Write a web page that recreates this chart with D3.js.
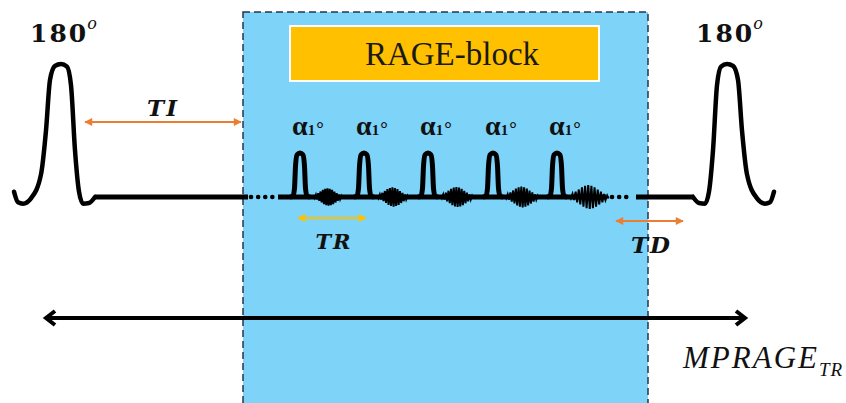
<!DOCTYPE html>
<html>
<head>
<meta charset="utf-8">
<script src="https://cdn.jsdelivr.net/npm/d3@7"></script>
<style>
  html, body { margin: 0; padding: 0; background: #fff; overflow: hidden; }
</style>
</head>
<body>
<div id="chart"></div>
<script>
// ---- sequence data (time axis in px units) ----
const bigPulses = [61, 727];                 // 180 deg inversion pulses
const bigPulseLabel = ['180', 'o'];
const alphaPulses = [300, 364, 428, 493, 557];
const alphaLabel = ['\u03b1', '1', '\u00b0'];
const wiggleCenters = [328, 393, 457, 522, 589];
const wiggleScale = [1.1, 1.2, 1.25, 1.3, 1.5];
const wiggleEnvelope = [1, 2, 3.5, 5, 6.5, 7.5, 8, 7.5, 6.5, 5, 3.5, 2, 1];
const ragePeriod = [243, 648];               // RAGE-block window
const rageLabel = 'RAGE-block';
const solidSegs = [[95, 248], [278, 606], [636, 694]];
const dotSegs = [[251, 275], [612, 633]];
const spanArrows = [
  { label: 'TI', x0: 85, x1: 241, kind: 'orange' },
  { label: 'TR', x0: 298, x1: 366, kind: 'yellow' },
  { label: 'TD', x0: 616, x1: 683, kind: 'orange' }
];
const mprageSpan = [45, 746];
const mprageLabel = ['MPRAGE', 'TR'];

// pulse shapes: [dx, relative amplitude]
const bigShape = [[-47, 0.04], [-43, -0.04], [-38, -0.05], [-30, -0.01], [-20, 0.17], [-15, 0.5],
  [-11, 0.88], [-6, 0.985], [0, 1], [6, 0.98], [10, 0.84], [14, 0.35], [18, 0.04], [22, -0.05],
  [28, -0.045], [34, 0]];
const smallShape = [[-10, 0], [-7, 0.02], [-5.5, 0.2], [-4.5, 0.7], [-3, 0.96], [0, 1],
  [3, 0.96], [4.5, 0.7], [5.5, 0.2], [7, 0.02], [10, 0]];

// ---- layout ----
const width = 846, height = 403;
const baseY = 197;
const COLORS = { blue: '#7dd3f8', border: '#26364f', orange: '#ed7d31', yellow: '#ffc000', black: '#000' };

const x = d3.scaleLinear().domain([0, width]).range([0, width]);
const yBig = d3.scaleLinear().domain([0, 1]).range([baseY, 64]);
const ySmall = d3.scaleLinear().domain([0, 1]).range([baseY, 153]);

const svg = d3.select('#chart')
  .append('svg')
  .attr('width', width)
  .attr('height', height)
  .style('font-family', 'DejaVu Serif, serif');

// blue RAGE window
svg.append('rect')
  .attr('x', x(ragePeriod[0]))
  .attr('y', 12)
  .attr('width', x(ragePeriod[1]) - x(ragePeriod[0]))
  .attr('height', height + 20)
  .attr('fill', COLORS.blue)
  .attr('stroke', COLORS.border)
  .attr('stroke-width', 1.5)
  .attr('stroke-dasharray', '7,4');

// RAGE-block label box
svg.append('rect')
  .attr('x', 290).attr('y', 26)
  .attr('width', 309).attr('height', 55)
  .attr('fill', COLORS.yellow)
  .attr('stroke', '#fff')
  .attr('stroke-width', 2);

svg.append('text')
  .attr('x', 452).attr('y', 65)
  .attr('text-anchor', 'middle')
  .style('font-family', 'Liberation Serif, serif')
  .style('font-size', '33px')
  .attr('fill', '#1a1a1a')
  .text(rageLabel);

// ---- pulses ----
const line = d3.line().curve(d3.curveMonotoneX);

bigPulses.forEach((c, i) => {
  let shape = i === 0 ? bigShape : bigShape.map(([dx, a]) => [-dx, a]).reverse();
  svg.append('path')
    .attr('d', line(shape.map(([dx, a]) => [x(c + dx), yBig(a)])))
    .attr('fill', 'none')
    .attr('stroke', COLORS.black)
    .attr('stroke-width', 4.5)
    .attr('stroke-linecap', 'round')
    .attr('stroke-linejoin', 'round');

  let t = svg.append('text')
    .attr('x', x(c) - 31)
    .attr('y', 42)
    .style('font-weight', 'bold')
    .attr('fill', '#111');
  t.append('tspan')
    .style('font-size', '25px')
    .style('letter-spacing', '2px')
    .text(bigPulseLabel[0]);
  t.append('tspan')
    .attr('dy', -13)
    .attr('dx', -1)
    .style('font-size', '16px')
    .style('font-weight', 'normal')
    .style('font-style', 'italic')
    .text(bigPulseLabel[1]);
});

// baseline segments
solidSegs.forEach(([a, b]) => {
  svg.append('line')
    .attr('x1', x(a)).attr('x2', x(b))
    .attr('y1', baseY).attr('y2', baseY)
    .attr('stroke', COLORS.black)
    .attr('stroke-width', 5);
});

dotSegs.forEach(([a, b]) => {
  svg.append('line')
    .attr('x1', x(a)).attr('x2', x(b))
    .attr('y1', baseY).attr('y2', baseY)
    .attr('stroke', COLORS.black)
    .attr('stroke-width', 4.5)
    .attr('stroke-linecap', 'round')
    .attr('stroke-dasharray', '0.1,7');
});

// readout wiggles
wiggleCenters.forEach((c, i) => {
  let s = wiggleScale[i];
  let n = wiggleEnvelope.length;
  let pts = [];
  wiggleEnvelope.forEach((a, j) => {
    let dx = (j - (n - 1) / 2) * 2.1 * s;
    pts.push([x(c + dx - 0.5 * s), baseY - a * s]);
    pts.push([x(c + dx + 0.5 * s), baseY + a * s]);
  });
  svg.append('path')
    .attr('d', d3.line()(pts))
    .attr('fill', 'none')
    .attr('stroke', COLORS.black)
    .attr('stroke-width', 2);
});

// alpha pulses
alphaPulses.forEach((c) => {
  svg.append('path')
    .attr('d', line(smallShape.map(([dx, a]) => [x(c + dx), ySmall(a)])))
    .attr('fill', 'none')
    .attr('stroke', COLORS.black)
    .attr('stroke-width', 5)
    .attr('stroke-linejoin', 'round');

  let t = svg.append('text')
    .attr('x', x(c) - 8)
    .attr('y', 135)
    .style('font-family', 'Liberation Serif, serif')
    .style('font-weight', 'bold')
    .attr('fill', '#111');
  t.append('tspan').style('font-size', '28px').text(alphaLabel[0]);
  t.append('tspan').style('font-size', '15px').text(alphaLabel[1]);
  t.append('tspan').attr('dx', 1).style('font-size', '19px').text(alphaLabel[2]);
});

// ---- span arrows ----
const defs = svg.append('defs');
['orange', 'yellow'].forEach((k) => {
  defs.append('marker')
    .attr('id', `head-${k}`)
    .attr('viewBox', '0 -5 10 10')
    .attr('refX', 9).attr('refY', 0)
    .attr('markerWidth', 9).attr('markerHeight', 8)
    .attr('markerUnits', 'userSpaceOnUse')
    .attr('orient', 'auto-start-reverse')
    .append('path')
    .attr('d', 'M0,-5L10,0L0,5Z')
    .attr('fill', COLORS[k]);
});

const arrowY = { TI: 122, TR: 218, TD: 221 };
const labelY = { TI: 116, TR: 249, TD: 253 };
spanArrows.forEach((d) => {
  svg.append('line')
    .attr('x1', x(d.x0)).attr('x2', x(d.x1))
    .attr('y1', arrowY[d.label]).attr('y2', arrowY[d.label])
    .attr('stroke', COLORS[d.kind])
    .attr('stroke-width', 2)
    .attr('marker-start', `url(#head-${d.kind})`)
    .attr('marker-end', `url(#head-${d.kind})`);

  svg.append('text')
    .attr('x', x((d.x0 + d.x1) / 2) + (d.label === 'TI' ? 0 : 2))
    .attr('y', labelY[d.label])
    .attr('text-anchor', 'middle')
    .style('font-size', d.label === 'TR' ? '21px' : '23px')
    .style('font-weight', 'bold')
    .style('font-style', 'italic')
    .style('letter-spacing', '2px')
    .attr('fill', '#111')
    .text(d.label);
});

// MPRAGE TR arrow
const my = 318;
svg.append('line')
  .attr('x1', x(mprageSpan[0]) + 2).attr('x2', x(mprageSpan[1]) - 2)
  .attr('y1', my).attr('y2', my)
  .attr('stroke', COLORS.black)
  .attr('stroke-width', 4);

svg.append('path')
  .attr('d', `M${x(mprageSpan[0]) + 10},${my - 7}L${x(mprageSpan[0]) + 1},${my}L${x(mprageSpan[0]) + 10},${my + 7}`)
  .attr('fill', 'none').attr('stroke', COLORS.black).attr('stroke-width', 4);
svg.append('path')
  .attr('d', `M${x(mprageSpan[1]) - 10},${my - 7}L${x(mprageSpan[1]) - 1},${my}L${x(mprageSpan[1]) - 10},${my + 7}`)
  .attr('fill', 'none').attr('stroke', COLORS.black).attr('stroke-width', 4);

let mt = svg.append('text')
  .attr('x', 683).attr('y', 368)
  .style('font-family', 'Liberation Serif, serif')
  .style('font-style', 'italic')
  .attr('fill', '#111');
mt.append('tspan').style('font-size', '31px').style('letter-spacing', '2px').text(mprageLabel[0]);
mt.append('tspan').attr('dy', 8).style('font-size', '19px').style('letter-spacing', '1px').text(mprageLabel[1]);
</script>
</body>
</html>
